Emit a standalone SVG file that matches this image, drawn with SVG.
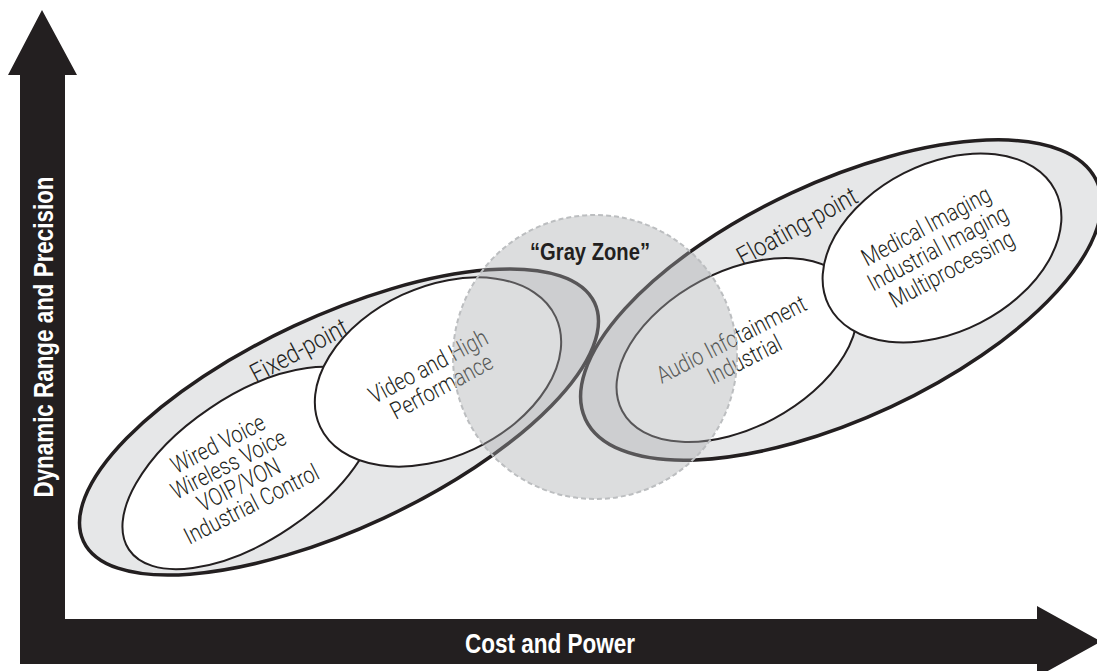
<svg xmlns="http://www.w3.org/2000/svg" width="1097" height="671" viewBox="0 0 1097 671">
  <style>
    .axis { fill: #231f20; }
    .axis-label { font-family: "Liberation Sans", Arial, sans-serif; font-weight: bold; font-size: 28px; fill: #ffffff; }
    .outer { fill: #e6e7e8; stroke: #231f20; stroke-width: 3.5; }
    .inner { fill: #ffffff; stroke: #231f20; stroke-width: 2; }
    .lbl { font-family: Roboto, "Liberation Sans", Arial, sans-serif; font-weight: 300; font-size: 24px; fill: #231f20; text-anchor: middle; }
    .group-lbl { font-family: Roboto, "Liberation Sans", Arial, sans-serif; font-weight: 300; font-size: 26px; fill: #231f20; text-anchor: middle; }
    .zone { fill: #a7a9ac; fill-opacity: 0.4; stroke: #bcbec0; stroke-width: 2; stroke-dasharray: 5 3; }
    .zone-lbl { font-family: "Liberation Sans", Arial, sans-serif; font-weight: bold; font-size: 24px; fill: #231f20; text-anchor: middle; }
  </style>

  <!-- axes -->
  <g id="axes">
    <polygon class="axis" points="42,10 77,75 65,75 65,619 1037,619 1037,606 1101,641.5 1037,677 1037,664 20,664 20,75 8,75"/>
    <text class="axis-label" transform="translate(52.5,337) rotate(-90)" text-anchor="middle" textLength="321" lengthAdjust="spacingAndGlyphs">Dynamic Range and Precision</text>
    <text class="axis-label" x="550" y="653" text-anchor="middle" textLength="170" lengthAdjust="spacingAndGlyphs">Cost and Power</text>
  </g>

  <!-- fixed-point family -->
  <g id="fixed-point">
    <ellipse class="outer" cx="339" cy="422" rx="282" ry="106" transform="rotate(-25 339 422)"/>
    <g transform="translate(299,350) rotate(-28) scale(0.85,1)">
      <text class="group-lbl" x="0" y="9">Fixed-point</text>
    </g>
  </g>

  <g id="wired-voice">
    <ellipse class="inner" cx="250" cy="468" rx="146" ry="72" transform="rotate(-34 250 468)"/>
    <g transform="translate(236,474) rotate(-27) scale(0.82,1)">
      <text class="lbl">
        <tspan x="0" y="-27">Wired Voice</tspan>
        <tspan x="0" y="-4">Wireless Voice</tspan>
        <tspan x="0" y="19">VOIP/VON</tspan>
        <tspan x="0" y="42">Industrial Control</tspan>
      </text>
    </g>
  </g>

  <g id="video">
    <ellipse class="inner" cx="438" cy="372" rx="130" ry="85" transform="rotate(-25 438 372)"/>
    <g transform="translate(436,376) rotate(-28) scale(0.82,1)">
      <text class="lbl">
        <tspan x="0" y="-4">Video and High</tspan>
        <tspan x="0" y="20">Performance</tspan>
      </text>
    </g>
  </g>

  <!-- floating-point family -->
  <g id="floating-point">
    <ellipse class="outer" cx="841" cy="300" rx="282" ry="118" transform="rotate(-25 841 300)"/>
    <g transform="translate(797,226) rotate(-29) scale(0.85,1)">
      <text class="group-lbl" x="0" y="9">Floating-point</text>
    </g>
  </g>

  <g id="audio">
    <ellipse class="inner" cx="737" cy="350" rx="130" ry="78" transform="rotate(-28 737 350)"/>
    <g transform="translate(739,349) rotate(-27) scale(0.82,1)">
      <text class="lbl">
        <tspan x="0" y="-4">Audio Infotainment</tspan>
        <tspan x="0" y="20">Industrial</tspan>
      </text>
    </g>
  </g>

  <g id="imaging">
    <ellipse class="inner" cx="942" cy="248" rx="127" ry="84" transform="rotate(-27 942 248)"/>
    <g transform="translate(940,247) rotate(-28) scale(0.82,1)">
      <text class="lbl">
        <tspan x="0" y="-17">Medical Imaging</tspan>
        <tspan x="0" y="8">Industrial Imaging</tspan>
        <tspan x="0" y="33">Multiprocessing</tspan>
      </text>
    </g>
  </g>

  <!-- overlap region between the two families -->
  <g id="gray-zone">
    <circle class="zone" cx="595" cy="357" r="142"/>
    <text class="zone-lbl" x="590" y="260" textLength="120" lengthAdjust="spacingAndGlyphs">“Gray Zone”</text>
  </g>
</svg>
